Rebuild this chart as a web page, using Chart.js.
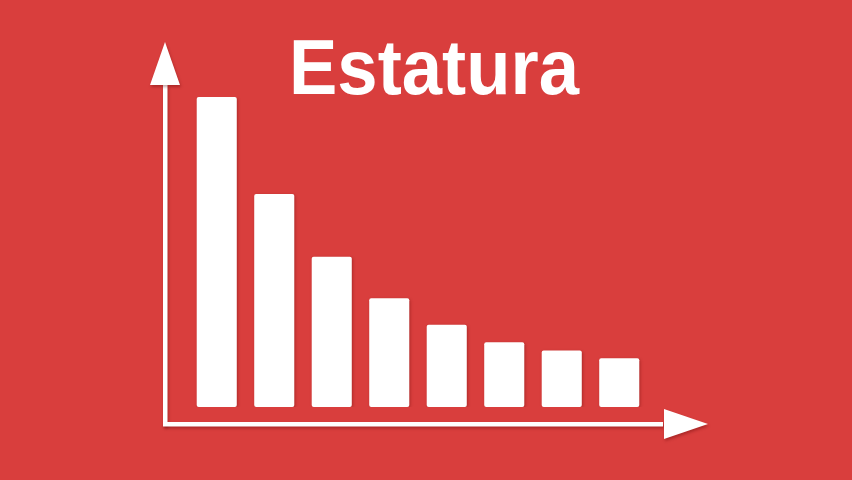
<!DOCTYPE html>
<html>
<head>
<meta charset="utf-8">
<script src="https://cdn.jsdelivr.net/npm/chart.js@4"></script>
<style>
  html, body { margin: 0; padding: 0; background: #D93E3D; }
  canvas { display: block; }
</style>
</head>
<body>
<canvas id="myChart" width="852" height="480"></canvas>
<script>
// Data grafik (tinggi relatif setiap batang)
const titleText = 'Estatura';
const categories = ['1', '2', '3', '4', '5', '6', '7', '8'];
const values = [100, 68.7, 48.5, 35.1, 26.5, 20.9, 18.2, 15.7];

const bgColor = '#D93E3D';

// Plugin untuk judul dan sumbu dengan panah
const axesArrows = {
    id: 'axesArrows',
    beforeDatasetsDraw(chart) {
        const ctx = chart.ctx;
        const a = chart.chartArea;
        const axisX = a.left - 23;     // garis sumbu y
        const axisY = a.bottom + 17;   // garis sumbu x

        ctx.save();
        ctx.shadowColor = 'rgba(90,0,0,0.35)';
        ctx.shadowBlur = 3;
        ctx.shadowOffsetX = 1;
        ctx.shadowOffsetY = 2;
        ctx.fillStyle = '#ffffff';

        // sumbu y
        ctx.fillRect(axisX - 2, a.top - 13, 4.5, axisY - a.top + 15);
        ctx.beginPath();
        ctx.moveTo(axisX, a.top - 55);
        ctx.lineTo(axisX - 15, a.top - 12);
        ctx.lineTo(axisX + 15, a.top - 12);
        ctx.closePath();
        ctx.fill();

        // sumbu x
        ctx.fillRect(axisX - 2, axisY - 2, a.right + 17 - axisX, 4.5);
        ctx.beginPath();
        ctx.moveTo(a.right + 60, axisY);
        ctx.lineTo(a.right + 16, axisY - 15);
        ctx.lineTo(a.right + 16, axisY + 15);
        ctx.closePath();
        ctx.fill();
        ctx.restore();

        // bayangan untuk batang
        ctx.save();
        ctx.shadowColor = 'rgba(90,0,0,0.35)';
        ctx.shadowBlur = 3;
        ctx.shadowOffsetX = 1;
        ctx.shadowOffsetY = 1;
    },
    afterDatasetsDraw(chart) {
        const ctx = chart.ctx;
        ctx.restore();

        // judul
        ctx.save();
        ctx.fillStyle = '#ffffff';
        ctx.font = 'bold 78px "Liberation Sans", Arial, sans-serif';
        ctx.textAlign = 'center';
        ctx.textBaseline = 'alphabetic';
        ctx.fillText(titleText, 434, 94, 290);
        ctx.restore();
    }
};

const ctx = document.getElementById('myChart').getContext('2d');

new Chart(ctx, {
    type: 'bar',
    data: {
        labels: categories,
        datasets: [{
            label: titleText,
            data: values,
            backgroundColor: '#ffffff',
            borderWidth: 0,
            borderRadius: 2,
            borderSkipped: false,
            barPercentage: 0.697,
            categoryPercentage: 1
        }]
    },
    options: {
        responsive: false,
        animation: false,
        layout: {
            padding: { left: 188, right: 204, top: 97, bottom: 73 }
        },
        scales: {
            x: { display: false },
            y: { display: false, min: 0, max: 100 }
        },
        plugins: {
            legend: { display: false },
            tooltip: { enabled: false },
            title: { display: false }
        }
    },
    plugins: [axesArrows]
});
</script>
</body>
</html>
